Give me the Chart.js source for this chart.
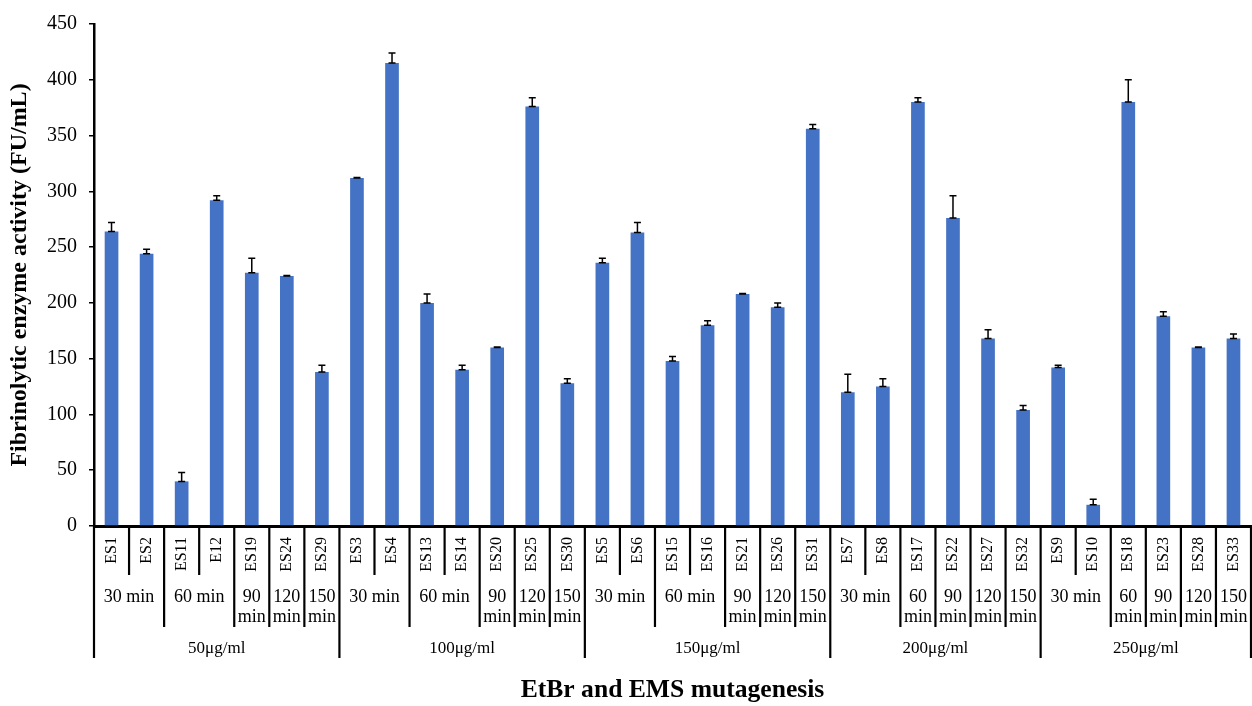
<!DOCTYPE html>
<html>
<head>
<meta charset="utf-8">
<script src="https://cdn.jsdelivr.net/npm/chart.js@4.4.1/dist/chart.umd.min.js"></script>
<style>
  body { margin: 0; background: #fff; }
  #wrap { width: 1252px; height: 706px; }
</style>
</head>
<body>
<div id="wrap"><canvas id="chart" width="1252" height="706"></canvas></div>
<script>
const samples = ['ES1', 'ES2', 'ES11', 'E12', 'ES19', 'ES24', 'ES29',
  'ES3', 'ES4', 'ES13', 'ES14', 'ES20', 'ES25', 'ES30',
  'ES5', 'ES6', 'ES15', 'ES16', 'ES21', 'ES26', 'ES31',
  'ES7', 'ES8', 'ES17', 'ES22', 'ES27', 'ES32',
  'ES9', 'ES10', 'ES18', 'ES23', 'ES28', 'ES33'];

const activity = [264, 244, 40, 292, 227, 224, 138,
  312, 415, 200, 140, 160, 376, 128,
  236, 263, 148, 180, 208, 196, 356,
  120, 125, 380, 276, 168, 104,
  142, 19, 380, 188, 160, 168];

// upper error (plus side only)
const errorUp = [8, 4, 8, 4, 13, 0.5, 6,
  0.5, 9, 8, 4, 0.5, 8, 4,
  4, 9, 4, 4, 0.5, 4, 4,
  16, 7, 4, 20, 8, 4,
  2, 5, 20, 4, 0.5, 4];

const times = ['30 min', '30 min', '60 min', '60 min', '90 min', '120 min', '150 min',
  '30 min', '30 min', '60 min', '60 min', '90 min', '120 min', '150 min',
  '30 min', '30 min', '60 min', '60 min', '90 min', '120 min', '150 min',
  '30 min', '30 min', '60 min', '90 min', '120 min', '150 min',
  '30 min', '30 min', '60 min', '90 min', '120 min', '150 min'];

const concs = ['50μg/ml', '50μg/ml', '50μg/ml', '50μg/ml', '50μg/ml', '50μg/ml', '50μg/ml',
  '100μg/ml', '100μg/ml', '100μg/ml', '100μg/ml', '100μg/ml', '100μg/ml', '100μg/ml',
  '150μg/ml', '150μg/ml', '150μg/ml', '150μg/ml', '150μg/ml', '150μg/ml', '150μg/ml',
  '200μg/ml', '200μg/ml', '200μg/ml', '200μg/ml', '200μg/ml', '200μg/ml',
  '250μg/ml', '250μg/ml', '250μg/ml', '250μg/ml', '250μg/ml', '250μg/ml'];

const yTicks = [0, 50, 100, 150, 200, 250, 300, 350, 400, 450];

const serif = '"Liberation Serif", "Times New Roman", serif';

// runs of consecutive categories sharing the same key
function runs(key) {
  const out = [];
  let start = 0;
  for (let i = 1; i <= samples.length; i++) {
    if (i === samples.length || key(i) !== key(start)) {
      out.push([start, i]);
      start = i;
    }
  }
  return out;
}

const errorBars = {
  id: 'errorBars',
  afterDatasetsDraw(chart) {
    const { ctx } = chart;
    const y = chart.scales.y;
    ctx.save();
    ctx.strokeStyle = '#000';
    ctx.lineWidth = 1.5;
    chart.getDatasetMeta(0).data.forEach((bar, i) => {
      const top = y.getPixelForValue(activity[i] + errorUp[i]);
      ctx.beginPath();
      ctx.moveTo(bar.x, bar.y);
      ctx.lineTo(bar.x, top);
      ctx.moveTo(bar.x - 3.5, top);
      ctx.lineTo(bar.x + 3.5, top);
      ctx.moveTo(bar.x - 3.5, bar.y);
      ctx.lineTo(bar.x + 3.5, bar.y);
      ctx.stroke();
    });
    ctx.restore();
  }
};

// three-row category axis: sample / exposure time / concentration
const groupAxis = {
  id: 'groupAxis',
  afterDraw(chart) {
    const { ctx, chartArea } = chart;
    const x = chart.scales.x;
    const n = samples.length;
    const w = (x.right - x.left) / n;
    const y0 = chartArea.bottom;
    const edge = i => x.left + i * w;

    ctx.save();
    ctx.strokeStyle = '#000';
    ctx.lineWidth = 2.2;
    for (let i = 0; i <= n; i++) {
      let depth = 49;
      if (i === 0 || i === n || concs[i] !== concs[i - 1]) depth = 132;
      else if (times[i] !== times[i - 1]) depth = 101;
      ctx.beginPath();
      ctx.moveTo(edge(i), y0);
      ctx.lineTo(edge(i), y0 + depth);
      ctx.stroke();
    }

    ctx.fillStyle = '#000';
    ctx.font = '16px ' + serif;
    ctx.textAlign = 'right';
    ctx.textBaseline = 'middle';
    samples.forEach((s, i) => {
      ctx.save();
      ctx.translate(x.getPixelForValue(i), y0 + 11);
      ctx.rotate(-Math.PI / 2);
      ctx.fillText(s, 0, 0);
      ctx.restore();
    });

    ctx.textAlign = 'center';
    ctx.font = '18px ' + serif;
    runs(i => concs[i] + '|' + times[i]).forEach(([a, b]) => {
      const cx = (edge(a) + edge(b)) / 2;
      if (b - a > 1) {
        ctx.fillText(times[a], cx, y0 + 71);
      } else {
        times[a].split(' ').forEach((t, k) => ctx.fillText(t, cx, y0 + 71 + k * 20));
      }
    });

    ctx.font = '17px ' + serif;
    runs(i => concs[i]).forEach(([a, b]) => {
      ctx.fillText(concs[a], (edge(a) + edge(b)) / 2, y0 + 123);
    });
    ctx.restore();
  }
};

new Chart(document.getElementById('chart'), {
  type: 'bar',
  data: {
    labels: samples,
    datasets: [{
      data: activity,
      backgroundColor: '#4472C4',
      barPercentage: 0.39,
      categoryPercentage: 1
    }]
  },
  options: {
    responsive: false,
    animation: false,
    layout: { padding: { top: 14, right: 1, bottom: 0, left: 0 } },
    plugins: {
      legend: { display: false },
      tooltip: { enabled: false }
    },
    scales: {
      x: {
        offset: true,
        grid: { display: false },
        border: { display: true, color: '#000', width: 3 },
        ticks: { display: false },
        title: {
          display: true,
          text: 'EtBr and EMS mutagenesis',
          color: '#000',
          font: { family: serif, size: 25.6, weight: 'bold' },
          padding: { top: 0, bottom: 0 }
        },
        afterFit: s => { s.height = 180; }
      },
      y: {
        min: 0,
        max: 450,
        afterBuildTicks: s => { s.ticks = yTicks.map(v => ({ value: v })); },
        ticks: { color: '#000', padding: 12, font: { family: serif, size: 20 } },
        grid: { drawOnChartArea: false, drawTicks: true, tickLength: 5, color: '#000', lineWidth: 1.5 },
        border: { display: true, color: '#000', width: 2.5 },
        title: {
          display: true,
          text: 'Fibrinolytic enzyme activity (FU/mL)',
          color: '#000',
          font: { family: serif, size: 24, weight: 'bold' },
          padding: { top: 5, bottom: 0 }
        },
        afterFit: s => { s.width = 94; }
      }
    }
  },
  plugins: [errorBars, groupAxis]
});
</script>
</body>
</html>
